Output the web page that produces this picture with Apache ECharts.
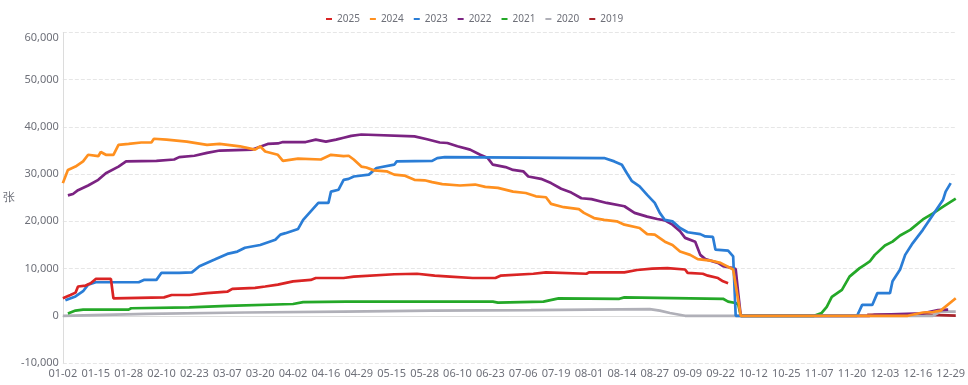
<!DOCTYPE html>
<html>
<head>
<meta charset="utf-8">
<script src="https://cdn.jsdelivr.net/npm/echarts@6/dist/echarts.min.js"></script>
<style>html,body{margin:0;padding:0;background:#fff}#c{width:968px;height:385px}</style>
</head>
<body>
<div id="c"></div>
<script>
const categories = [
'01-02','01-03','01-04','01-05','01-06','01-07','01-08','01-09','01-10','01-11','01-12','01-13','01-14','01-15','01-16','01-17','01-18','01-19','01-20','01-21','01-22','01-23','01-24','01-25','01-26','01-27','01-28','01-29','01-30','01-31',
'02-01','02-02','02-03','02-04','02-05','02-06','02-07','02-08','02-09','02-10','02-11','02-12','02-13','02-14','02-15','02-16','02-17','02-18','02-19','02-20','02-21','02-22','02-23','02-24','02-25','02-26','02-27','02-28','02-29',
'03-01','03-02','03-03','03-04','03-05','03-06','03-07','03-08','03-09','03-10','03-11','03-12','03-13','03-14','03-15','03-16','03-17','03-18','03-19','03-20','03-21','03-22','03-23','03-24','03-25','03-26','03-27','03-28','03-29','03-30','03-31',
'04-01','04-02','04-03','04-04','04-06','04-07','04-08','04-09','04-10','04-11','04-12','04-13','04-14','04-15','04-16','04-17','04-18','04-19','04-20','04-21','04-22','04-23','04-24','04-25','04-26','04-27','04-28','04-29','04-30',
'05-04','05-05','05-06','05-07','05-08','05-09','05-10','05-11','05-12','05-13','05-14','05-15','05-16','05-17','05-18','05-19','05-20','05-21','05-22','05-23','05-24','05-25','05-26','05-27','05-28','05-29','05-30','05-31',
'06-01','06-02','06-03','06-04','06-05','06-06','06-07','06-08','06-09','06-10','06-11','06-12','06-13','06-14','06-15','06-16','06-17','06-18','06-19','06-20','06-21','06-22','06-23','06-24','06-25','06-26','06-27','06-28','06-29','06-30',
'07-01','07-02','07-03','07-04','07-05','07-06','07-07','07-08','07-09','07-10','07-11','07-12','07-13','07-14','07-15','07-16','07-17','07-18','07-19','07-20','07-21','07-22','07-23','07-24','07-25','07-26','07-27','07-28','07-29','07-30','07-31',
'08-01','08-02','08-03','08-04','08-05','08-06','08-07','08-08','08-09','08-10','08-11','08-12','08-13','08-14','08-15','08-16','08-17','08-18','08-19','08-20','08-21','08-22','08-23','08-24','08-25','08-26','08-27','08-28','08-29','08-30','08-31',
'09-01','09-02','09-03','09-04','09-05','09-06','09-07','09-08','09-09','09-10','09-11','09-12','09-13','09-14','09-15','09-16','09-17','09-18','09-19','09-20','09-21','09-22','09-23','09-24','09-25','09-26','09-27','09-28','09-29','09-30',
'10-08','10-09','10-10','10-11','10-12','10-13','10-14','10-15','10-16','10-17','10-18','10-19','10-20','10-21','10-22','10-23','10-24','10-25','10-26','10-27','10-28','10-29','10-30','10-31',
'11-01','11-02','11-03','11-04','11-05','11-06','11-07','11-08','11-09','11-10','11-11','11-12','11-13','11-14','11-15','11-16','11-17','11-18','11-19','11-20','11-21','11-22','11-23','11-24','11-25','11-26','11-27','11-28','11-29','11-30',
'12-01','12-02','12-03','12-04','12-05','12-06','12-07','12-08','12-09','12-10','12-11','12-12','12-13','12-14','12-15','12-16','12-17','12-18','12-19','12-20','12-21','12-22','12-23','12-24','12-25','12-26','12-27','12-28','12-29','12-30','12-31'
];

const yearNames = ['2025','2024','2023','2022','2021','2020','2019'];
const yearColors = ['#da2424','#ff901f','#2a7dd6','#7b2382','#24a828','#b0b0b8','#a8232a'];

const data2025 = [['01-02',3700],['01-05',4400],['01-07',4900],['01-08',6200],['01-11',6400],['01-13',6900],['01-15',7800],['01-21',7800],['01-22',3700],['02-11',3900],['02-14',4400],['02-21',4400],['02-28',4800],['03-07',5100],['03-09',5700],['03-18',5900],['03-22',6200],['03-27',6600],['04-02',7300],['04-10',7600],['04-12',8000],['04-23',8000],['04-27',8300],['05-16',8800],['05-25',8900],['06-01',8500],['06-07',8300],['06-16',8000],['06-25',8000],['06-27',8500],['07-10',8900],['07-15',9200],['07-31',8900],['08-01',9200],['08-15',9200],['08-20',9700],['08-26',10000],['09-01',10100],['09-08',9800],['09-09',9100],['09-15',8900],['09-17',8500],['09-21',8000],['09-23',7300],['09-25',6900]];

const data2024 = [['01-02',28100],['01-04',30900],['01-07',31600],['01-10',32700],['01-12',34100],['01-16',33800],['01-17',34700],['01-19',34100],['01-22',34100],['01-24',36200],['01-28',36400],['02-02',36700],['02-06',36700],['02-07',37500],['02-12',37300],['02-20',36900],['02-28',36200],['03-04',36400],['03-12',35900],['03-18',35200],['03-20',35900],['03-22',34800],['03-27',34100],['03-29',32800],['04-04',33300],['04-14',33100],['04-18',34100],['04-23',33800],['04-25',33900],['04-27',33100],['04-30',31600],['05-05',31400],['05-08',30800],['05-13',30600],['05-16',29900],['05-20',29700],['05-24',28800],['05-28',28700],['05-31',28300],['06-04',27900],['06-11',27600],['06-17',27800],['06-21',27300],['06-26',27100],['07-02',26300],['07-07',26000],['07-11',25300],['07-15',25100],['07-17',23700],['07-22',23000],['07-28',22600],['07-30',21800],['08-03',20700],['08-07',20300],['08-12',20000],['08-15',19300],['08-21',18600],['08-24',17300],['08-27',17200],['08-31',15700],['09-03',15000],['09-06',13600],['09-10',12900],['09-13',12000],['09-18',11700],['09-22',11200],['09-27',9800],['09-30',0],['10-08',0],['12-12',0],['12-18',700],['12-22',800],['12-25',1100],['12-31',3700]];

const data2023 = [['01-03',3300],['01-07',4100],['01-10',5200],['01-12',6600],['01-15',7100],['02-01',7100],['02-03',7600],['02-08',7600],['02-10',9100],['02-17',9100],['02-22',9200],['02-25',10500],['03-02',11900],['03-07',13100],['03-11',13600],['03-14',14400],['03-20',15000],['03-26',16100],['03-28',17200],['03-30',17500],['04-04',18400],['04-07',20300],['04-10',22100],['04-13',23900],['04-17',23900],['04-18',26300],['04-21',26700],['04-23',28800],['04-25',29000],['04-27',29500],['05-06',29900],['05-09',31300],['05-16',32000],['05-17',32700],['05-31',32800],['06-02',33400],['06-05',33600],['08-07',33400],['08-11',32700],['08-14',32000],['08-16',30200],['08-18',28500],['08-21',27400],['08-24',25600],['08-27',23900],['08-29',21800],['08-31',20300],['09-03',20000],['09-06',18600],['09-09',17700],['09-14',17300],['09-16',16800],['09-19',16700],['09-20',14000],['09-25',13800],['09-27',12600],['09-28',0],['10-08',0],['11-22',0],['11-24',2300],['11-28',2300],['11-30',4800],['12-05',4800],['12-06',7300],['12-09',9800],['12-11',12900],['12-14',15400],['12-18',18200],['12-22',21400],['12-26',24600],['12-27',26300],['12-28',27200],['12-29',28100]];

const data2022 = [['01-04',25500],['01-06',25800],['01-08',26600],['01-12',27600],['01-16',28800],['01-19',30200],['01-24',31600],['01-27',32700],['02-08',32800],['02-15',33100],['02-17',33600],['02-23',33900],['02-28',34500],['03-04',35000],['03-17',35200],['03-23',36400],['03-27',36500],['03-29',36800],['04-08',36800],['04-12',37300],['04-16',36900],['04-20',37300],['04-23',37700],['04-26',38100],['04-30',38400],['05-24',38000],['05-29',37400],['06-03',36700],['06-06',36600],['06-10',35900],['06-15',35200],['06-19',34100],['06-22',33400],['06-24',32000],['06-29',31500],['07-02',30900],['07-06',30600],['07-08',29500],['07-13',29000],['07-17',28100],['07-21',26900],['07-25',26100],['07-29',24900],['08-02',24700],['08-08',23900],['08-15',23200],['08-19',21800],['08-24',21000],['08-28',20500],['08-31',20200],['09-03',19300],['09-06',17900],['09-08',16500],['09-12',15700],['09-14',12900],['09-16',12000],['09-21',11200],['09-23',10500],['09-27',10100],['09-28',9900],['09-29',4800],['09-30',0],['10-08',0],['11-27',0],['11-29',200],['12-18',500],['12-24',1200],['12-28',1300]];

const data2021 = [['01-04',500],['01-07',1100],['01-10',1300],['01-28',1300],['01-29',1600],['02-21',1800],['03-07',2100],['04-02',2500],['04-07',2900],['04-24',3000],['06-24',3000],['06-26',2800],['07-14',3000],['07-20',3700],['08-13',3600],['08-15',3900],['09-23',3600],['09-25',3000],['09-28',2700],['09-29',2400],['09-30',0],['10-08',0],['11-05',0],['11-08',600],['11-10',1900],['11-12',4000],['11-16',5500],['11-19',8300],['11-23',10100],['11-25',10800],['11-27',11500],['11-29',12900],['12-03',14900],['12-06',15700],['12-09',17000],['12-13',18200],['12-18',20400],['12-22',21700],['12-26',23100],['12-31',24800]];

const data2020 = [['01-02',0],['02-04',400],['03-14',700],['04-23',900],['05-31',1100],['07-09',1200],['08-25',1400],['08-29',1100],['09-02',600],['09-08',0],['09-30',0],['10-08',0],['12-22',0],['12-25',900],['12-31',900]];

const data2019 = [['11-26',200],['12-18',250],['12-31',50]];

const yTicks = [-10000, 0, 10000, 20000, 30000, 40000, 50000, 60000];

const seriesData = [data2025, data2024, data2023, data2022, data2021, data2020, data2019];

const chart = echarts.init(document.getElementById('c'), null, {renderer: 'canvas'});
const txt = '#6e7079';
const series = [];
for (let k = seriesData.length - 1; k >= 0; k--) {
  series.push({
    name: yearNames[k],
    type: 'line',
    data: seriesData[k],
    showSymbol: false,
    symbol: 'none',
    connectNulls: true,
    color: yearColors[k],
    lineStyle: {width: 2.7, color: yearColors[k]},
    emphasis: {disabled: true}
  });
}
chart.setOption({
  animation: false,
  textStyle: {fontFamily: 'Noto Sans, sans-serif'},
  legend: {
    data: yearNames,
    top: 9,
    left: 321,
    icon: 'rect',
    itemWidth: 6,
    itemHeight: 2,
    itemGap: 10,
    textStyle: {color: txt, fontSize: 10}
  },
  grid: {left: 54, right: 8, top: 32.5, bottom: 22, containLabel: false},
  xAxis: {
    type: 'category',
    data: categories,
    boundaryGap: false,
    axisLine: {lineStyle: {color: '#dcdcdc'}},
    axisTick: {show: false},
    axisLabel: {interval: 12, color: txt, fontSize: 11, margin: 5},
    splitLine: {show: false}
  },
  yAxis: {
    type: 'value',
    min: yTicks[0],
    max: yTicks[yTicks.length - 1],
    interval: 10000,
    name: '张',
    nameLocation: 'middle',
    nameRotate: 0,
    nameGap: 40,
    nameTextStyle: {color: txt, fontSize: 12},
    axisLine: {show: true, lineStyle: {color: '#dcdcdc'}},
    axisTick: {show: false},
    axisLabel: {color: txt, fontSize: 11, margin: 4, verticalAlignMaxLabel: 'top'},
    splitLine: {lineStyle: {type: 'dashed', color: '#e6e6e6'}}
  },
  series: series
});
</script>
</body>
</html>
